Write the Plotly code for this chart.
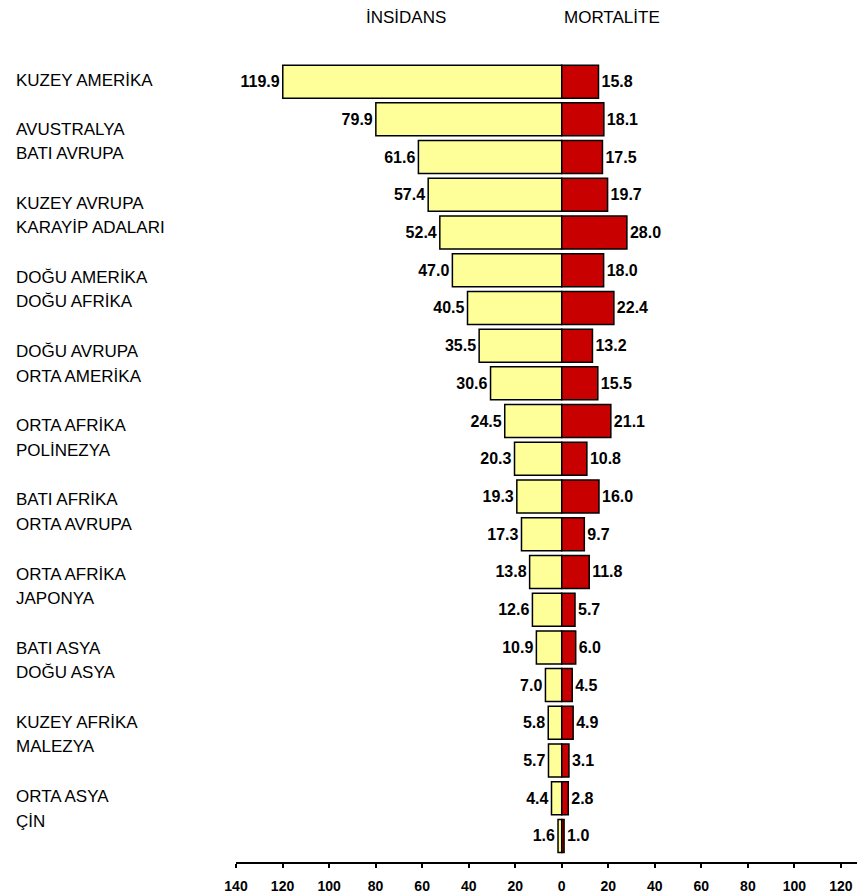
import plotly.graph_objects as go

labels = ["KUZEY AMERİKA", "AVUSTRALYA", "BATI AVRUPA", "KUZEY AVRUPA", "KARAYİP ADALARI",
          "DOĞU AMERİKA", "DOĞU AFRİKA", "DOĞU AVRUPA", "ORTA AMERİKA", "ORTA AFRİKA",
          "POLİNEZYA", "BATI AFRİKA", "ORTA AVRUPA", "ORTA AFRİKA", "JAPONYA",
          "BATI ASYA", "DOĞU ASYA", "KUZEY AFRİKA", "MALEZYA", "ORTA ASYA", "ÇİN"]
incidence = [119.9, 79.9, 61.6, 57.4, 52.4, 47.0, 40.5, 35.5, 30.6, 24.5, 20.3,
             19.3, 17.3, 13.8, 12.6, 10.9, 7.0, 5.8, 5.7, 4.4, 1.6]
mortality = [15.8, 18.1, 17.5, 19.7, 28.0, 18.0, 22.4, 13.2, 15.5, 21.1, 10.8,
             16.0, 9.7, 11.8, 5.7, 6.0, 4.5, 4.9, 3.1, 2.8, 1.0]
tick_vals = [-140, -120, -100, -80, -60, -40, -20, 0, 20, 40, 60, 80, 100, 120]
tick_text = [str(abs(v)) for v in tick_vals]

idx = list(range(len(labels)))

fig = go.Figure()
fig.add_trace(go.Bar(
    y=idx, x=[-v for v in incidence], orientation="h", width=0.875,
    marker=dict(color="#FFFF99", line=dict(color="black", width=1.5)),
    text=[f"<b>{v:.1f}</b>" for v in incidence], textposition="outside",
    textfont=dict(family="Liberation Sans", size=16, color="black"),
    cliponaxis=False, hoverinfo="skip"))
fig.add_trace(go.Bar(
    y=idx, x=mortality, orientation="h", width=0.875,
    marker=dict(color="#C80000", line=dict(color="black", width=1.5)),
    text=[f"<b>{v:.1f}</b>" for v in mortality], textposition="outside",
    textfont=dict(family="Liberation Sans", size=16, color="black"),
    cliponaxis=False, hoverinfo="skip"))

annotations = []
for j, name in enumerate(labels):
    if j == 0:
        yy = -0.04
    else:
        k = (j - 1) // 2
        yy = 1.26 + 1.966 * k + 0.65 * ((j - 1) % 2)
    annotations.append(dict(text=name, x=-0.358, xref="paper", y=yy, yref="y",
                            xanchor="left", yanchor="middle", showarrow=False,
                            font=dict(family="Liberation Sans", size=17, color="black")))
annotations.append(dict(text="İNSİDANS", x=-67, xref="x", y=1.052, yref="paper",
                        xanchor="center", yanchor="middle", showarrow=False,
                        font=dict(family="Liberation Sans", size=17, color="black")))
annotations.append(dict(text="MORTALİTE", x=21.5, xref="x", y=1.052, yref="paper",
                        xanchor="center", yanchor="middle", showarrow=False,
                        font=dict(family="Liberation Sans", size=17, color="black")))

fig.update_layout(
    width=857, height=895, barmode="overlay", showlegend=False,
    margin=dict(l=236, r=0, t=59, b=33),
    plot_bgcolor="white", paper_bgcolor="white",
    xaxis=dict(range=[-140, 126.9], tickvals=tick_vals,
               ticktext=[f"<b>{t}</b>" for t in tick_text],
               tickfont=dict(family="Liberation Sans", size=14, color="black"),
               showgrid=False, zeroline=False, showline=True, linecolor="black",
               linewidth=1.5, ticks="outside", ticklen=4, tickwidth=1.5,
               tickcolor="black", ticklabelstandoff=6),
    yaxis=dict(range=[20.69, -0.6], showticklabels=False, showgrid=False,
               zeroline=False, showline=False),
    annotations=annotations,
)
fig.write_html("out.html")
